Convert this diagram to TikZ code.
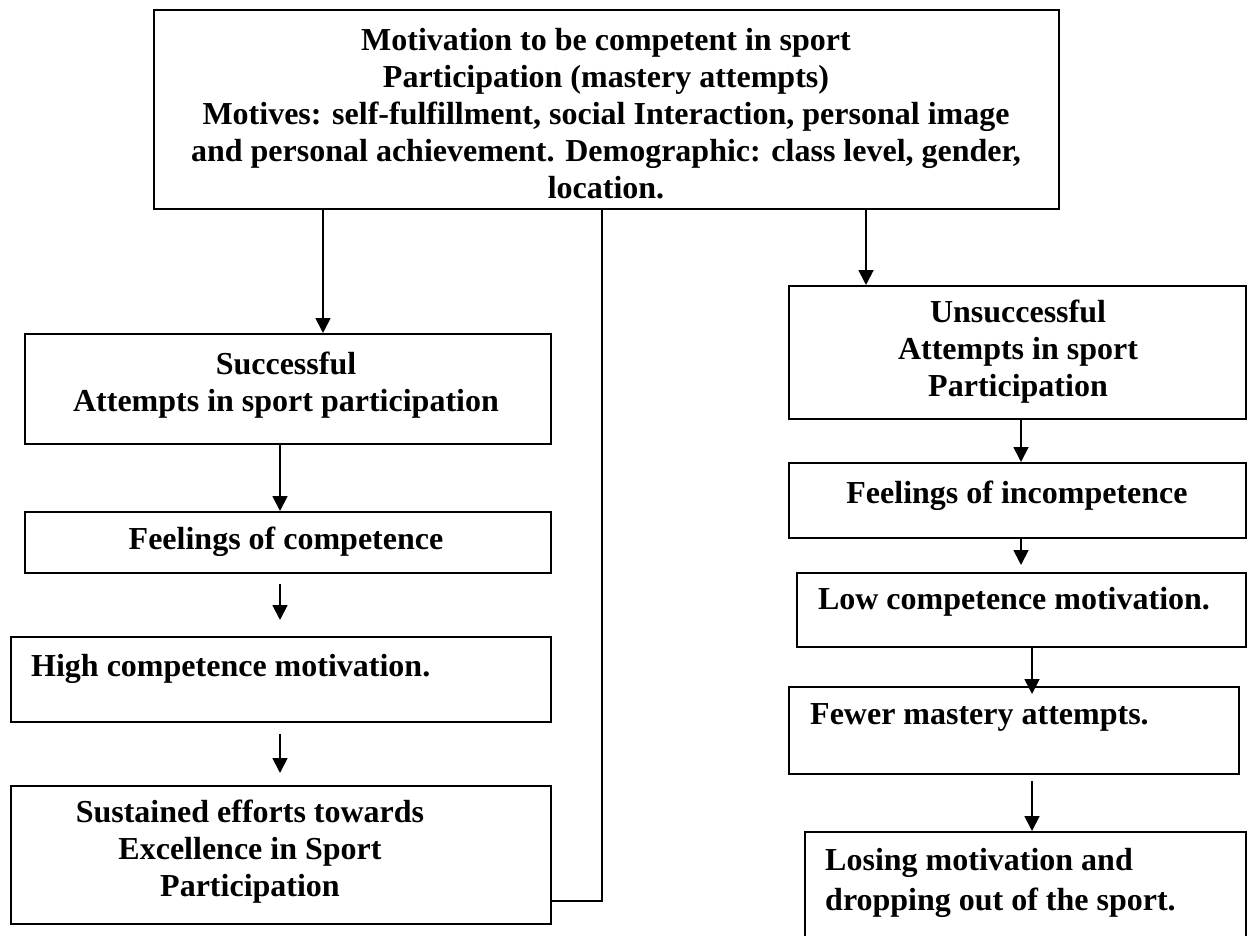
\documentclass[tikz,border=0pt]{standalone}
\usepackage{fontspec}
\setmainfont{Liberation Serif}
\usetikzlibrary{arrows.meta,calc}
\begin{document}
\begin{tikzpicture}[x=1pt,y=-1pt,
  box/.style={draw, line width=1.8pt, inner sep=0pt, anchor=north west},
  txt/.style={font=\fontsize{32}{37}\selectfont\bfseries, inner sep=0pt, align=center},
  arr/.style={line width=1.8pt, -{Triangle[length=15pt,width=15pt]}},
  ln/.style={line width=1.8pt}]
\useasboundingbox (0,0) rectangle (1250,936);
\clip (0,0) rectangle (1250,936);
\fill[white] (0,0) rectangle (1250,936);
% boxes
\node[box, minimum width=905pt, minimum height=199pt] (top) at (153,9) {};
\node[box, minimum width=526pt, minimum height=110pt] (succ) at (24,333) {};
\node[box, minimum width=526pt, minimum height=61pt] (feel) at (24,511) {};
\node[box, minimum width=540pt, minimum height=85pt] (high) at (10,636) {};
\node[box, minimum width=540pt, minimum height=138pt] (sust) at (10,785) {};
\node[box, minimum width=457pt, minimum height=133pt] (unsu) at (788,285) {};
\node[box, minimum width=457pt, minimum height=75pt] (finc) at (788,462) {};
\node[box, minimum width=449pt, minimum height=74pt] (low) at (796,572) {};
\node[box, minimum width=450pt, minimum height=87pt] (fewer) at (788,686) {};
\node[box, minimum width=441pt, minimum height=140pt] (lose) at (804,831) {};
% texts
\node[txt] (topt) at (606,114) {Motivation to be competent in sport\\Participation (mastery attempts)\\Motives: self-fulfillment, social Interaction, personal image\\and personal achievement. Demographic: class level, gender,\\location.};
\node[txt] (succt) at (286,385) {Successful\\Attempts in sport participation};
\node[txt] (feelt) at (286,542) {Feelings of competence};
\node[txt, anchor=west] (hight) at (31,669) {High competence motivation.};
\node[txt] (sustt) at (250,852) {Sustained efforts towards\\Excellence in Sport\\Participation};
\node[txt] (unsut) at (1018,352) {Unsuccessful\\Attempts in sport\\Participation};
\node[txt] (finct) at (1017,496) {Feelings of incompetence};
\node[txt] (lowt) at (1014,602) {Low competence motivation.};
\node[txt, anchor=west] (fewert) at (810,717) {Fewer mastery attempts.};
\node[txt, anchor=west, align=left, font=\fontsize{32}{40}\selectfont\bfseries] (loset) at (825,883) {Losing motivation and\\dropping out of the sport.};
% x positions of connectors
\coordinate (xa) at (323,0);
\coordinate (xb) at (280,0);
\coordinate (xc) at (866,0);
\coordinate (xd) at (1021,0);
\coordinate (xe) at (1032,0);
\coordinate (xf) at (602,0);
\coordinate (fb) at (0,901);
% connectors
\draw[arr] (top.south -| xa) -- (succ.north -| xa);
\draw[arr] (succ.south -| xb) -- (feel.north -| xb);
\draw[arr] ($(feel.south -| xb)+(0,10)$) -- ($(high.north -| xb)+(0,-16)$);
\draw[arr] ($(high.south -| xb)+(0,11)$) -- ($(sust.north -| xb)+(0,-12)$);
\draw[ln] (sust.east |- fb) -| (top.south -| xf);
\draw[arr] (top.south -| xc) -- (unsu.north -| xc);
\draw[arr] (unsu.south -| xd) -- (finc.north -| xd);
\draw[arr] (finc.south -| xd) -- ($(low.north -| xd)+(0,-7)$);
\draw[arr] (low.south -| xe) -- ($(fewer.north -| xe)+(0,8)$);
\draw[arr] ($(fewer.south -| xe)+(0,6)$) -- (lose.north -| xe);
\end{tikzpicture}
\end{document}
